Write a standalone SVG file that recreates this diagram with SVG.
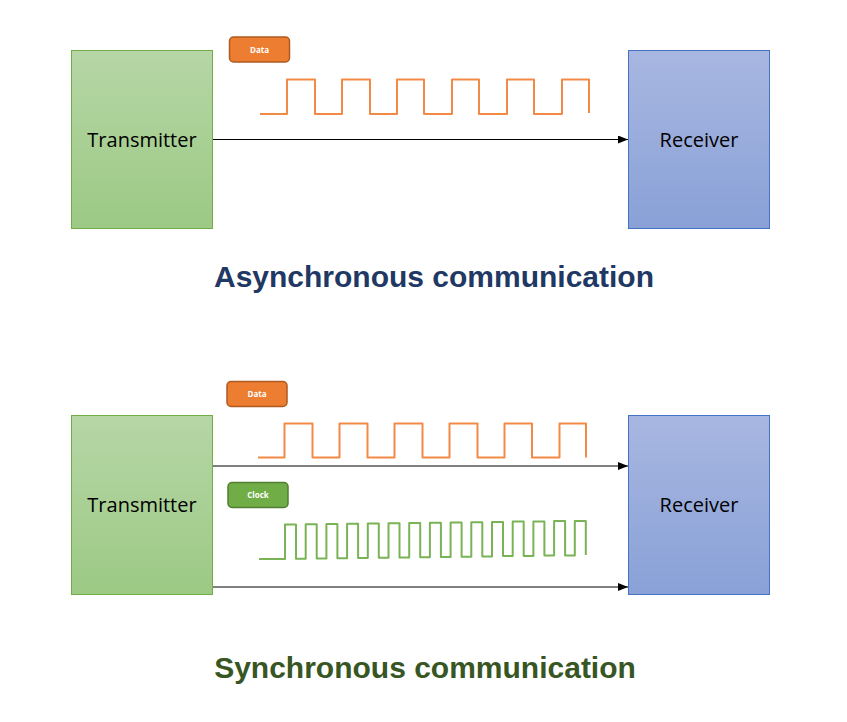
<svg xmlns="http://www.w3.org/2000/svg" width="847" height="722" viewBox="0 0 847 722">
<defs>
<linearGradient id="gGreen" x1="0" y1="0" x2="0" y2="1"><stop offset="0" stop-color="#B6D6A6"/><stop offset="1" stop-color="#9CC984"/></linearGradient>
<linearGradient id="gBlue" x1="0" y1="0" x2="0" y2="1"><stop offset="0" stop-color="#A8B7E1"/><stop offset="1" stop-color="#89A1D7"/></linearGradient>
<marker id="arr" viewBox="0 0 10 8" refX="10" refY="4" markerWidth="10" markerHeight="8" markerUnits="userSpaceOnUse" orient="auto"><path d="M0,0 L10,4 L0,8 Z" fill="#000"/></marker>
</defs>
<style>
.tx{fill:url(#gGreen);stroke:#70AD47;stroke-width:1}
.rx{fill:url(#gBlue);stroke:#4472C4;stroke-width:1}
.lbl{font-family:"Open Sans","Liberation Sans",sans-serif;font-size:20px;fill:#000;text-anchor:middle}
.title{font-family:"Liberation Sans",Arial,sans-serif;font-size:30px;font-weight:bold;text-anchor:middle}
.tag{font-family:"Open Sans","Liberation Sans",sans-serif;font-size:8px;font-weight:bold;fill:#fff;text-anchor:middle}
.dbox{fill:#ED7D31;stroke:#AE5A21;stroke-width:1.5}
.cbox{fill:#70AD47;stroke:#507E32;stroke-width:1.5}
.wd{fill:none;stroke:#F28A45;stroke-width:2;stroke-linejoin:round}
.wc{fill:none;stroke:#7AB356;stroke-width:2;stroke-linejoin:round}
.con{stroke:#000;stroke-width:1;fill:none;marker-end:url(#arr)}
</style>
<rect width="847" height="722" fill="#fff"/>

<g id="connectors">
<line class="con" x1="213" y1="139.5" x2="628" y2="139.5"/>
<line class="con" x1="213" y1="466" x2="628" y2="466"/>
<line class="con" x1="213" y1="587" x2="628" y2="587"/>
</g>

<g id="async-transmitter">
<rect class="tx" x="71.5" y="50.5" width="141" height="178"/>
<text class="lbl" x="142" y="146.5">Transmitter</text>
</g>
<g id="async-receiver">
<rect class="rx" x="628.5" y="50.5" width="141" height="178"/>
<text class="lbl" x="699" y="146.5">Receiver</text>
</g>
<g id="async-data-label">
<rect class="dbox" x="229.5" y="37" width="60" height="25" rx="4"/>
<text class="tag" x="259.5" y="52.5">Data</text>
</g>
<g id="async-data-wave">
<path class="wd" d="M260,114 H287 V79.5 H315 V114 H342 V79.5 H370 V114 H397 V79.5 H424 V114 H452 V79.5 H479 V114 H507 V79.5 H534 V114 H562 V79.5 H589 V113"/>
</g>
<g id="async-title">
<text class="title" x="434" y="287" fill="#1F3864">Asynchronous communication</text>
</g>

<g id="sync-transmitter">
<rect class="tx" x="71.5" y="415.5" width="141" height="179"/>
<text class="lbl" x="142" y="512">Transmitter</text>
</g>
<g id="sync-receiver">
<rect class="rx" x="628.5" y="415.5" width="141" height="179"/>
<text class="lbl" x="699" y="512">Receiver</text>
</g>
<g id="sync-data-label">
<rect class="dbox" x="227" y="381.5" width="60" height="25" rx="4"/>
<text class="tag" x="257" y="397">Data</text>
</g>
<g id="sync-data-wave">
<path class="wd" d="M258,457.5 H284.5 V423.5 H312.5 V457.5 H339.5 V423.5 H367.5 V457.5 H394.5 V423.5 H422.5 V457.5 H449.5 V423.5 H477.5 V457.5 H504.5 V423.5 H532 V457.5 H559.5 V423.5 H586 V457.5"/>
</g>
<g id="sync-clock-label">
<rect class="cbox" x="228" y="482.5" width="60" height="25" rx="4"/>
<text class="tag" x="258" y="498">Clock</text>
</g>
<g id="sync-clock-wave">
<path class="wc" d="M259,559 H285 V524.5 H296 V558.7 H305.7 V524.2 H316.7 V558.5 H326.4 V524 H337.4 V558.2 H347.1 V523.7 H358.1 V558 H367.8 V523.5 H378.8 V557.7 H388.5 V523.2 H399.5 V557.4 H409.2 V522.9 H420.2 V557.2 H429.9 V522.7 H440.9 V556.9 H450.6 V522.4 H461.6 V556.7 H471.3 V522.2 H482.3 V556.4 H492 V521.9 H503 V556.1 H512.7 V521.6 H523.7 V555.9 H533.4 V521.4 H544.4 V555.6 H554.1 V521.1 H565.1 V555.4 H574.8 V520.9 H585.8 V555.1"/>
</g>
<g id="sync-title">
<text class="title" x="425" y="678" fill="#375623">Synchronous communication</text>
</g>
</svg>
